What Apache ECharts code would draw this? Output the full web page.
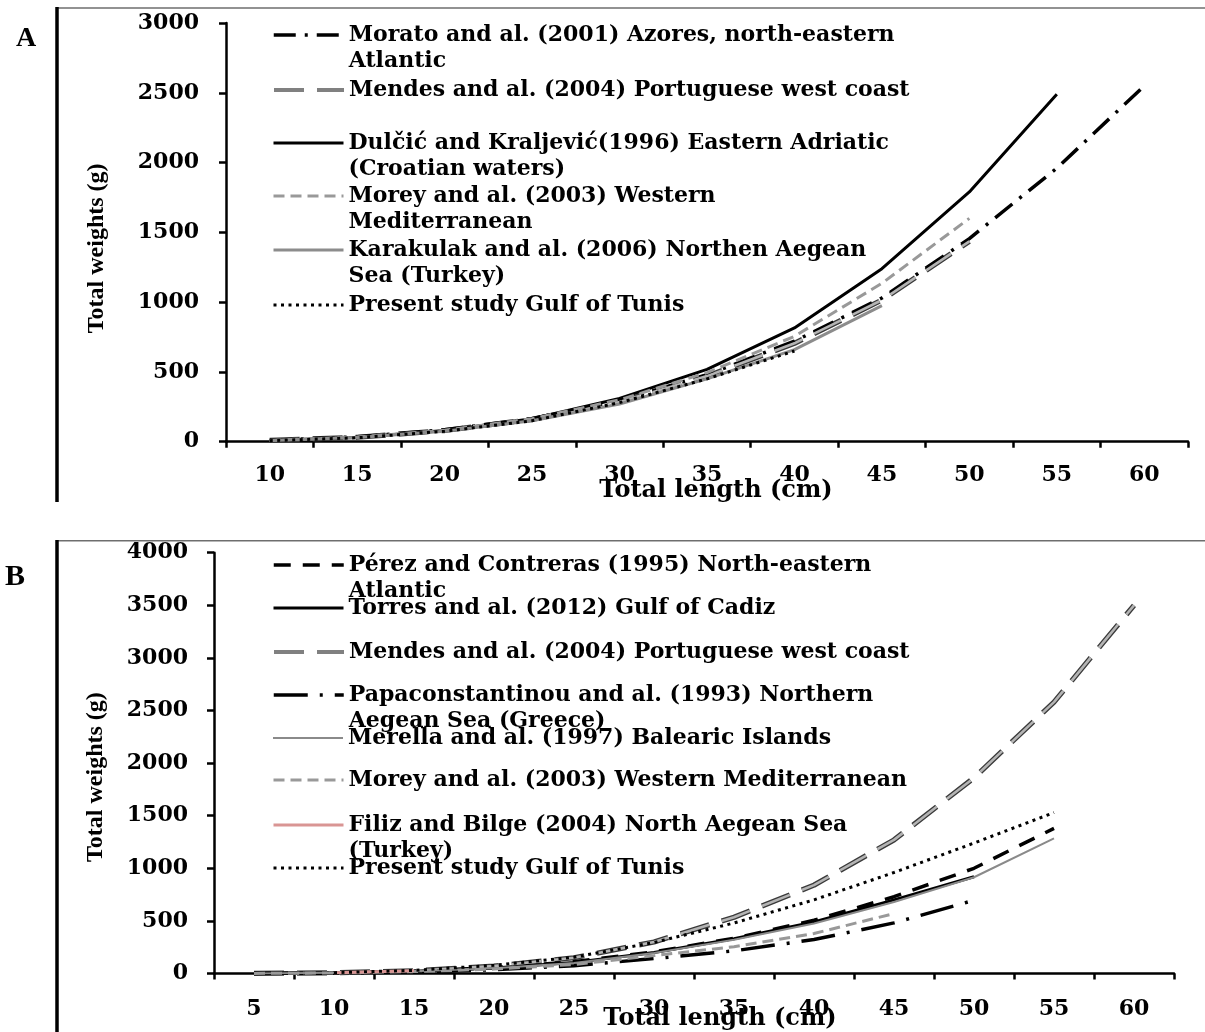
<!DOCTYPE html>
<html><head><meta charset="utf-8">
<script src="https://cdn.jsdelivr.net/npm/echarts@6/dist/echarts.min.js"></script>
<style>html,body{margin:0;padding:0;background:#fff}#c{width:1205px;height:1032px}</style>
</head><body><div id="c"></div>
<script>
// ---------- DATA ----------
const lengthsA = ['10','15','20','25','30','35','40','45','50','55','60'];
const moratoA    = [10, 35, 85, 165, 295, 480, 720, 1030, 1455, 1960, 2550];
const mendesA    = [9, 32, 80, 160, 285, 470, 705, 1015, 1435, null, null];
const dulcicA    = [8, 30, 80, 165, 310, 518, 815, 1240, 1790, 2490, null];
const moreyA     = [9, 33, 82, 165, 300, 495, 755, 1135, 1600, null, null];
const karakulakA = [8, 30, 75, 150, 270, 450, 660, 975, null, null, null];
const presentA   = [7, 28, 75, 150, 280, 450, 650, null, null, null, null];

const lengthsB = ['5','10','15','20','25','30','35','40','45','50','55','60'];
const perezB    = [1, 6, 22, 55, 112, 205, 335, 506, 730, 1000, 1380, null];
const torresB   = [1, 6, 22, 52, 105, 200, 330, 490, 700, 920, null, null];
const mendesB   = [1, 7, 26, 70, 150, 300, 535, 840, 1270, 1860, 2580, 3500];
const papaB     = [0, 4, 14, 36, 74, 142, 215, 323, 481, 696, null, null];
const merellaB  = [1, 6, 21, 50, 100, 195, 320, 475, 680, 915, 1285, null];
const moreyB    = [1, 5, 18, 42, 85, 170, 255, 380, 570, null, null, null];
const filizB    = [null, 8, 27, null, null, null, null, null, null, null, null, null];
const presentB  = [null, 8, 30, 78, 155, 295, 480, 700, 960, 1240, 1530, null];

const namesA = [
  'Morato and al. (2001) Azores, north-eastern Atlantic',
  'Mendes and al. (2004) Portuguese west coast',
  'Dulčić and Kraljević(1996) Eastern Adriatic (Croatian waters)',
  'Morey and al. (2003) Western Mediterranean',
  'Karakulak and al. (2006) Northen Aegean Sea (Turkey)',
  'Present study Gulf of Tunis'
];
const labelsA = [
  'Morato and al. (2001) Azores, north-eastern\nAtlantic',
  'Mendes and al. (2004) Portuguese west coast',
  'Dulčić and Kraljević(1996) Eastern Adriatic\n(Croatian waters)',
  'Morey and al. (2003) Western\nMediterranean',
  'Karakulak and al. (2006) Northen Aegean\nSea (Turkey)',
  'Present study Gulf of Tunis'
];
const namesB = [
  'Pérez and Contreras (1995) North-eastern Atlantic',
  'Torres and al. (2012) Gulf of Cadiz',
  'Mendes and al. (2004) Portuguese west coast ',
  'Papaconstantinou and al. (1993) Northern Aegean Sea (Greece)',
  'Merella and al. (1997) Balearic Islands',
  'Morey and al. (2003) Western Mediterranean ',
  'Filiz and Bilge (2004) North Aegean Sea (Turkey)',
  'Present study Gulf of Tunis '
];
const labelsB = [
  'Pérez and Contreras (1995) North-eastern\nAtlantic',
  'Torres and al. (2012) Gulf of Cadiz',
  'Mendes and al. (2004) Portuguese west coast',
  'Papaconstantinou and al. (1993) Northern\nAegean Sea (Greece)',
  'Merella and al. (1997) Balearic Islands',
  'Morey and al. (2003) Western Mediterranean',
  'Filiz and Bilge (2004) North Aegean Sea\n(Turkey)',
  'Present study Gulf of Tunis'
];
const dataA = [moratoA, mendesA, dulcicA, moreyA, karakulakA, presentA];
const dataB = [perezB, torresB, mendesB, papaB, merellaB, moreyB, filizB, presentB];

// ---------- STYLES / LAYOUT ----------
const S = {
  dashDot:  {color:'#000', width:3.5, type:[22,9,3,9]},
  mendes:   {color:'#b4b4b4', width:2.6, type:[30,13]},
  solid:    {color:'#000', width:3, type:'solid'},
  greyDash: {color:'#999', width:3, type:[11,6]},
  greySolid:{color:'#8c8c8c', width:3, type:'solid'},
  dotted:   {color:'#000', width:3, type:[3,4.5]},
  longDash: {color:'#000', width:3.5, type:[17,12]},
  papa:     {color:'#000', width:3.5, type:[34,12,3,12]},
  thinGrey: {color:'#8a8a8a', width:2, type:'solid'},
  pink:     {color:'#d99594', width:3, type:'solid'}
};
const mendesOutline = {color:'#3a3a3a', width:5.2, type:[30,13]};
const mendesLegend = {color:'#808080', width:4, type:[30,13]};
const stylesA = [S.dashDot, S.mendes, S.solid, S.greyDash, S.greySolid, S.dotted];
const stylesB = [S.longDash, S.solid, S.mendes, S.papa, S.thinGrey, S.greyDash, S.pink, S.dotted];
const legYA = [35, 90, 143, 196, 250, 305];
const legYB = [565, 608, 652, 695, 738, 780, 825, 868];

const TF = 'DejaVu Serif';
const LH = 26;
function legendFor(name, label, y, style) {
  const two = label.indexOf('\n') >= 0;
  return {
    data:[name], left:272, top: two ? y - LH*1.5 : y - LH/2,
    itemWidth:70, itemHeight:12, itemGap:0, padding:0, selectedMode:false,
    itemStyle:{opacity:0},
    lineStyle: Object.assign({}, style === S.mendes ? mendesLegend : style),
    formatter: () => (two ? '\n' + label : label),
    textStyle:{fontFamily:TF, fontWeight:'bold', fontSize:22, color:'#000', lineHeight:LH}
  };
}
const legends = [];
namesA.forEach((n,i)=>legends.push(legendFor(n, labelsA[i], legYA[i], stylesA[i])));
namesB.forEach((n,i)=>legends.push(legendFor(n, labelsB[i], legYB[i], stylesB[i])));

const series = [];
function addSeries(n, data, style, axis) {
  if (style === S.mendes) {
    series.push({type:'line', name:n + ' (outline)', xAxisIndex:axis, yAxisIndex:axis, data:data,
      symbol:'none', silent:true, lineStyle:mendesOutline, itemStyle:{color:mendesOutline.color}, z:2});
  }
  series.push({type:'line', name:n, xAxisIndex:axis, yAxisIndex:axis, data:data,
    symbol:'none', silent:true, lineStyle:style, itemStyle:{color:style.color}, z:3});
}
namesA.forEach((n,i)=>addSeries(n, dataA[i], stylesA[i], 0));
namesB.forEach((n,i)=>addSeries(n, dataB[i], stylesB[i], 1));

const axLine = {show:true, lineStyle:{color:'#000', width:2.5}};
const tickLbl = {color:'#000', fontFamily:TF, fontWeight:'bold', fontSize:22};
const plain = v => String(v);

const option = {
  animation:false,
  backgroundColor:'#fff',
  grid:[
    {left:226, top:23, width:962, height:418.7},
    {left:214, top:552.7, width:960, height:420.8}
  ],
  xAxis:[
    {type:'category', gridIndex:0, data:lengthsA, boundaryGap:true,
     axisLine:axLine, axisTick:{show:true, inside:false, length:6, lineStyle:{color:'#000', width:2.5}},
     axisLabel:Object.assign({margin:23}, tickLbl), splitLine:{show:false},
     name:'Total length (cm)', nameLocation:'middle', nameGap:37, nameMoveOverlap:false,
     nameTextStyle:{fontFamily:TF, fontWeight:'bold', fontSize:24, color:'#000', padding:[0,0,0,18]}},
    {type:'category', gridIndex:1, data:lengthsB, boundaryGap:true,
     axisLine:axLine, axisTick:{show:true, inside:false, length:6, lineStyle:{color:'#000', width:2.5}},
     axisLabel:Object.assign({margin:25}, tickLbl), splitLine:{show:false},
     name:'Total length (cm)', nameLocation:'middle', nameGap:33, nameMoveOverlap:false,
     nameTextStyle:{fontFamily:TF, fontWeight:'bold', fontSize:24, color:'#000', padding:[0,0,0,52]}}
  ],
  yAxis:[
    {type:'value', gridIndex:0, min:0, max:3000, interval:500,
     axisLine:axLine, axisTick:{show:true, length:7, lineStyle:{color:'#000', width:2.5}},
     axisLabel:Object.assign({margin:27, formatter:plain}, tickLbl), splitLine:{show:false},
     name:'Total weights (g)', nameLocation:'middle', nameGap:117, nameRotate:90,
     nameTextStyle:{fontFamily:'Liberation Serif', fontWeight:'bold', fontSize:24, color:'#000', padding:[0,32,0,0]}},
    {type:'value', gridIndex:1, min:0, max:4000, interval:500,
     axisLine:axLine, axisTick:{show:true, length:7, lineStyle:{color:'#000', width:2.5}},
     axisLabel:Object.assign({margin:26, formatter:plain}, tickLbl), splitLine:{show:false},
     name:'Total weights (g)', nameLocation:'middle', nameGap:106, nameRotate:90,
     nameTextStyle:{fontFamily:'Liberation Serif', fontWeight:'bold', fontSize:24, color:'#000', padding:[0,28,0,0]}}
  ],
  legend: legends,
  graphic:[
    {type:'line', shape:{x1:57, y1:8, x2:1205, y2:8}, style:{stroke:'#6e6e6e', lineWidth:1.5}},
    {type:'line', shape:{x1:57, y1:7, x2:57, y2:502}, style:{stroke:'#000', lineWidth:3.5}},
    {type:'line', shape:{x1:57, y1:540.7, x2:1205, y2:540.7}, style:{stroke:'#6e6e6e', lineWidth:1.5}},
    {type:'line', shape:{x1:57, y1:540, x2:57, y2:1032}, style:{stroke:'#000', lineWidth:3.5}},
    {type:'text', left:16, top:25, style:{text:'A', font:'bold 28px "Liberation Serif"', fill:'#000'}},
    {type:'text', left:5, top:562, style:{text:'B', font:'bold 30px "Liberation Serif"', fill:'#000'}}
  ],
  series: series
};
const chart = echarts.init(document.getElementById('c'), null, {renderer:'canvas'});
chart.setOption(option);
</script></body></html>
